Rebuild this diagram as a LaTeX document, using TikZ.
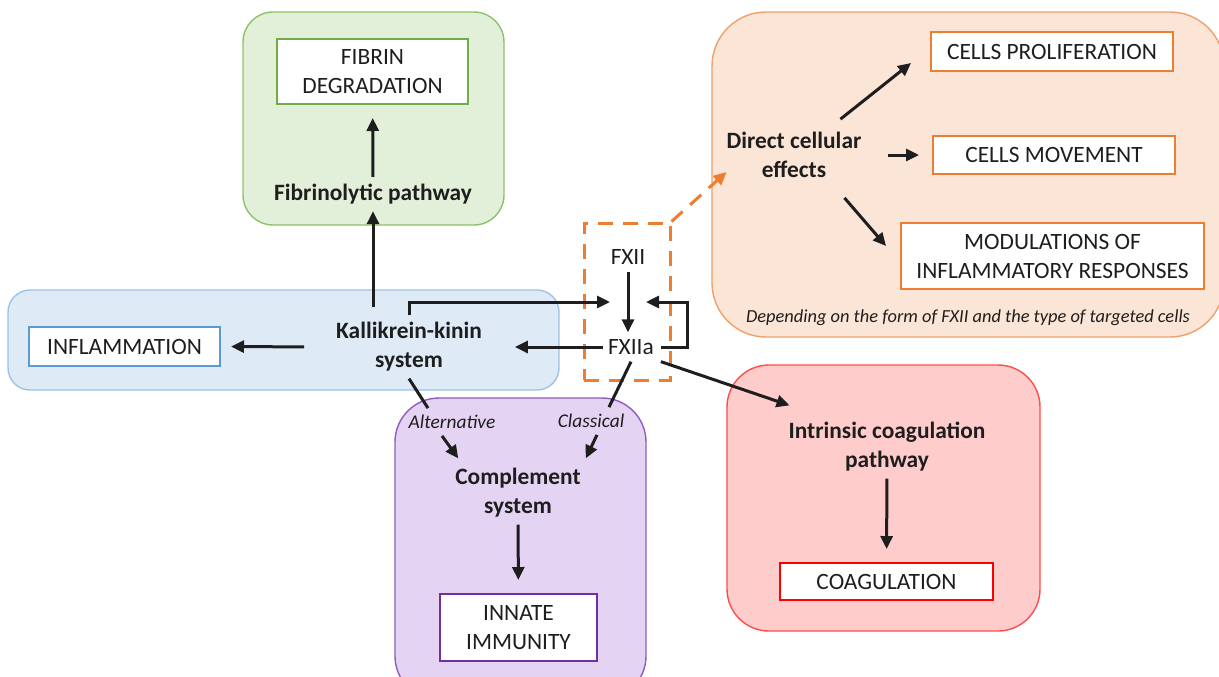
\documentclass[tikz,border=0pt]{standalone}
\usepackage{fontspec}
\setmainfont{Carlito}
\usetikzlibrary{arrows.meta,calc}
\definecolor{fibfill}{HTML}{E2EFD9}
\definecolor{fibline}{HTML}{8CC26A}
\definecolor{fibbox}{HTML}{70AD47}
\definecolor{kksfill}{HTML}{DEEBF7}
\definecolor{kksline}{HTML}{9DC3E6}
\definecolor{kksbox}{HTML}{5B9BD5}
\definecolor{compfill}{HTML}{E4D3F2}
\definecolor{compline}{HTML}{8E5CC2}
\definecolor{compbox}{HTML}{7030A0}
\definecolor{cellfill}{HTML}{FBE5D6}
\definecolor{cellline}{HTML}{F0A06A}
\definecolor{cellbox}{HTML}{ED7D31}
\definecolor{coagfill}{HTML}{FFCCCC}
\definecolor{coagline}{HTML}{FF4D4D}
\definecolor{coagbox}{HTML}{FF0000}
\definecolor{ink}{HTML}{1E1E1E}
\begin{document}
\begin{tikzpicture}[x=0.5pt, y=-0.5pt, >={Triangle[length=6.5pt,width=6pt]},
    font=\fontsize{11.7}{14.5}\selectfont, text=ink,
    panel/.style={rounded corners=#1, line width=0.7pt},
    outbox/.style={draw, fill=white, line width=1pt, align=center, inner sep=0pt},
    stage/.style={align=center, font=\fontsize{11.7}{14.5}\selectfont\bfseries},
    factor/.style={align=center},
    route/.style={font=\fontsize{9.7}{12}\selectfont\itshape},
    arr/.style={->, line width=1.5pt, ink},
    link/.style={line width=1.5pt, ink},
    dashbox/.style={draw=cellbox, dash pattern=on 7.5pt off 5pt, line width=1.5pt, inner sep=0pt}]
    \useasboundingbox (0,0) rectangle (1219,676);
    \clip (0,0) rectangle (1219,676);
    % background panels
    \filldraw[panel=15pt, fill=fibfill, draw=fibline] (243,12) rectangle (504,225);
    \filldraw[panel=11pt, fill=kksfill, draw=kksline] (8,290) rectangle (559,390);
    \filldraw[panel=22pt, fill=compfill, draw=compline] (395,398) rectangle (646,700);
    \filldraw[panel=27pt, fill=cellfill, draw=cellline] (712,12) rectangle (1224,337);
    \filldraw[panel=21pt, fill=coagfill, draw=coagline] (727,365) rectangle (1040,631);
    % outcome boxes
    \node[outbox, draw=fibbox, minimum width=95.5pt, minimum height=32.5pt] (fibdeg) at (372.5,71.5) {FIBRIN\\DEGRADATION};
    \node[outbox, draw=kksbox, minimum width=95.5pt, minimum height=19.5pt] (inflam) at (124.5,346.5) {INFLAMMATION};
    \node[outbox, draw=compbox, minimum width=78.5pt, minimum height=33.5pt] (innate) at (518.5,627.5) {INNATE\\IMMUNITY};
    \node[outbox, draw=coagbox, minimum width=106.5pt, minimum height=18.5pt] (coag) at (886.5,581.5) {COAGULATION};
    \node[outbox, draw=cellbox, minimum width=121pt, minimum height=19.5pt] (prolif) at (1052,51.5) {CELLS PROLIFERATION};
    \node[outbox, draw=cellbox, minimum width=121pt, minimum height=19pt] (move) at (1054,155) {CELLS MOVEMENT};
    \node[outbox, draw=cellbox, minimum width=151.5pt, minimum height=33pt] (modul) at (1052.5,256) {MODULATIONS OF\\INFLAMMATORY RESPONSES};
    % pathways
    \node[stage] (fibro) at (373,194) {Fibrinolytic pathway};
    \node[stage] (kks) at (409,347) {Kallikrein-kinin\\system};
    \node[stage] (comp) at (518,493) {Complement\\system};
    \node[stage] (icp) at (887,447) {Intrinsic coagulation\\pathway};
    \node[stage] (dce) at (794,155) {Direct cellular\\effects};
    \node[factor] (fxii) at (628,257) {FXII};
    \node[factor] (fxiia) at (631,347) {FXIIa};
    \node[route] (alt) at (452,422) {Alternative};
    \node[route] (cla) at (591,421) {Classical};
    \node[route, font=\fontsize{9.2}{11}\selectfont\itshape] (remark) at (968,318) {Depending on the form of FXII and the type of targeted cells};
    \node[dashbox, minimum width=43pt, minimum height=78.5pt] (fxbox) at (627,301.5) {};
    \coordinate (mid) at ($(fxii)!0.5!(fxii |- fxiia)$);
    % connectors
    \draw[->, dashbox] (fxbox.north east) -- ([xshift=3.5pt,yshift=-8.5pt]dce.west);
    \draw[arr, shorten >=6.5pt] (fibro) -- (fibdeg);
    \draw[arr, shorten <=4pt] (kks.north -| fibro.south) -- (fibro.south);
    \draw[arr, shorten <=12.5pt, shorten >=5pt] (kks.west) -- (inflam.east);
    \draw[arr, shorten <=-1pt, shorten >=13pt] (fxiia.west) -- (kks.east);
    \draw[arr] (kks.north) |- ([xshift=-9pt]mid);
    \draw[arr] (fxii) -- (fxii |- fxiia.north);
    \draw[arr] (fxiia.east) -- ++(27,0) |- ([xshift=9pt]mid);
    \draw[arr] (fxiia.south east) -- ([xshift=4pt,yshift=5pt]icp.north west);
    \draw[link] (kks.south) -- ([xshift=-12pt]alt.north);
    \draw[arr] ([xshift=-5pt]alt.south) -- ([xshift=5pt,yshift=1.5pt]comp.north west);
    \draw[link] (fxiia.south) -- ([xshift=9pt]cla.north);
    \draw[arr] ([xshift=3pt]cla.south) -- ([xshift=-1pt,yshift=1.5pt]comp.north east);
    \draw[arr, shorten >=6.5pt] (comp) -- (innate);
    \draw[arr, shorten >=6.5pt] (icp) -- (coag);
    \draw[arr] ([xshift=-14pt,yshift=3pt]dce.north east) -- ([xshift=-9.5pt,yshift=4.5pt]prolif.south west);
    \draw[arr, shorten <=10pt, shorten >=6.5pt] (dce.east) -- (move.west);
    \draw[arr] ([xshift=-12pt,yshift=-6.5pt]dce.south east) -- ([xshift=-7pt,yshift=-12pt]modul.north west);
\end{tikzpicture}
\end{document}
